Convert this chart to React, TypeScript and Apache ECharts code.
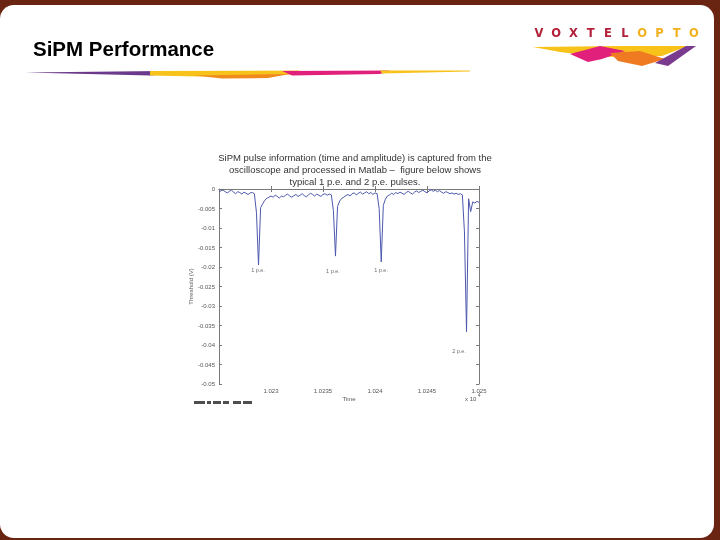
import React, { useEffect, useRef } from "react";
import * as echarts from "echarts";

// ---- data ----
const sampleStart = 1.0225; // time (x10^4)
const sampleStep = 0.00002;
const thresholdV = [
  -0.0008, -0.0004, -0.0003, -0.0007, -0.001, -0.0006, -0.0003, -0.0008, -0.0012, -0.0007,
  -0.0009, -0.0013, -0.0008, -0.0011, -0.0014, -0.001, -0.0009, -0.0012, -0.006, -0.0195,
  -0.0048, -0.0038, -0.0029, -0.0024, -0.0021, -0.0018, -0.0021, -0.0016, -0.0019, -0.0023,
  -0.0018, -0.002, -0.0016, -0.0013, -0.0018, -0.0021, -0.0017, -0.0014, -0.0019, -0.0016,
  -0.0012, -0.0017, -0.002, -0.0015, -0.0011, -0.0014, -0.0018, -0.0013, -0.0016, -0.0019,
  -0.0014, -0.0012, -0.0016, -0.0013, -0.0015, -0.0055, -0.0172, -0.0045, -0.0031, -0.0024,
  -0.0021, -0.0017, -0.0014, -0.0018, -0.0012, -0.001, -0.0015, -0.0011, -0.0008, -0.0013,
  -0.001, -0.0007, -0.0012, -0.0009, -0.0014, -0.001, -0.0012, -0.005, -0.0187, -0.0042,
  -0.0026, -0.0018, -0.0015, -0.0011, -0.0014, -0.0009, -0.0012, -0.0008, -0.0011, -0.0014,
  -0.0009, -0.0006, -0.001, -0.0013, -0.0008, -0.0005, -0.0009, -0.0006, -0.0003, -0.0007,
  -0.001, -0.0005, -0.0002, -0.0006, -0.0003, -0.0007, -0.0004, -0.0008, -0.0011, -0.0007,
  -0.0009, -0.0012, -0.001, -0.0013, -0.0011, -0.0014, -0.0012, -0.0015, -0.011, -0.0366,
  -0.0025, -0.0058, -0.0033, -0.0036, -0.0032, -0.0034,
];
const annotationText = ["1 p.e.", "1 p.e.", "1 p.e.", "2 p.e."];
const annotationTime = [1.022875, 1.023596, 1.024058, 1.024808];
const annotationV = [-0.0208, -0.021, -0.0208, -0.0415];
const xTicks = { min: 1.0225, max: 1.025, interval: 0.0005 };
const yTicks = { min: -0.05, max: 0, interval: 0.005 };
const captionLines = [
  "SiPM pulse information (time and amplitude) is captured from the",
  "oscilloscope and processed in Matlab –  figure below shows",
  "typical 1 p.e. and 2 p.e. pulses.",
];
const logoLetters = ["V", "O", "X", "T", "E", "L", "O", "P", "T", "O"];
const slideTitle = "SiPM Performance";
const exponentBase = "x 10";
const exponentPower = "4";

const fmt = (v: number) => String(parseFloat(v.toFixed(4)));

export default function App() {
  const ref = useRef<HTMLDivElement>(null);
  useEffect(() => {
    if (!ref.current) return;
    const chart = echarts.init(ref.current, null, { renderer: "svg" });
    const trace = thresholdV.map((v, i) => [sampleStart + i * sampleStep, v]);
    const ann = annotationText.map((t, i) => ({ value: [annotationTime[i], annotationV[i]], name: t }));
    const axisGray = "#7a7a7a";
    const labelStyle = { fontSize: 6, color: "#555", fontFamily: "Liberation Sans, Arial, sans-serif" };

    const graphics: any[] = [
      { type: "rect", z: -10, shape: { x: 0, y: 0, width: 720, height: 540 }, style: { fill: "#6a2412" } },
      { type: "rect", z: -9, shape: { x: 0, y: 5, width: 714, height: 533, r: 14 }, style: { fill: "#ffffff" } },
      {
        type: "text", left: 33, top: 38,
        style: { text: slideTitle, font: "bold 20.5px 'Liberation Sans', Arial, sans-serif", fill: "#000" },
      },
      // title swoosh
      { type: "polygon", shape: { points: [[25, 72.5], [160, 71], [200, 72], [150, 75.5]] }, style: { fill: "#6b3a8c" } },
      { type: "polygon", shape: { points: [[150, 71], [300, 70.5], [290, 74.5], [200, 76.5], [150, 75.5]] }, style: { fill: "#f7c21a" } },
      { type: "polygon", shape: { points: [[195, 75.5], [290, 74], [268, 78], [222, 78.5]] }, style: { fill: "#f08a1c" } },
      { type: "polygon", shape: { points: [[282, 71], [390, 70.5], [380, 74], [292, 75.5]] }, style: { fill: "#e0207a" } },
      { type: "polygon", shape: { points: [[380, 70.5], [470, 70.5], [470, 71.5], [382, 73.5]] }, style: { fill: "#f7c21a" } },
      // logo swoosh
      { type: "polygon", shape: { points: [[533, 47], [620, 46], [688, 46], [662, 56], [600, 57], [560, 52]] }, style: { fill: "#f7c21a" } },
      { type: "polygon", shape: { points: [[570, 54], [600, 46], [625, 51], [602, 59], [588, 62]] }, style: { fill: "#e0207a" } },
      { type: "polygon", shape: { points: [[610, 53], [640, 51], [665, 59], [642, 66], [618, 61]] }, style: { fill: "#f07a22" } },
      { type: "polygon", shape: { points: [[655, 63], [686, 46], [696, 46], [668, 66]] }, style: { fill: "#7a3a8e" } },
      // caption
      ...captionLines.map((t, i) => ({
        type: "text", x: 355, y: 157 + i * 12,
        style: { text: t, font: "9.5px 'Liberation Sans', Arial, sans-serif", fill: "#333", align: "center", verticalAlign: "middle" },
      })),
      // exponent label
      {
        type: "text", x: 465, y: 399,
        style: { text: exponentBase, fill: "#555", font: "6px 'Liberation Sans', Arial, sans-serif", verticalAlign: "middle" },
      },
      {
        type: "text", x: 478, y: 395,
        style: { text: exponentPower, fill: "#555", font: "4.5px 'Liberation Sans', Arial, sans-serif", verticalAlign: "middle" },
      },
      // cut-off text below the figure
      ...[[194, 11], [207, 4], [213, 8], [223, 6], [233, 8], [243, 9]].map(([x, w]) => ({
        type: "rect", shape: { x, y: 401, width: w, height: 3 }, style: { fill: "#222", opacity: 0.8 },
      })),
    ];
    logoLetters.forEach((l, i) => {
      graphics.push({
        type: "text", x: 539 + i * 17.2, y: 33,
        style: {
          text: l, font: "900 11.5px 'DejaVu Sans', Arial, sans-serif",
          fill: i < 6 ? "#b3203a" : "#f2b01e", align: "center", verticalAlign: "middle",
        },
      });
    });

    const baseX = {
      type: "value", min: xTicks.min, max: xTicks.max, interval: xTicks.interval,
      axisLine: { show: true, lineStyle: { color: axisGray, width: 1 } },
      axisTick: { show: true, inside: true, length: 3, lineStyle: { color: axisGray } },
      splitLine: { show: false },
    };
    const baseY = {
      type: "value", min: yTicks.min, max: yTicks.max, interval: yTicks.interval,
      axisLine: { show: true, lineStyle: { color: axisGray, width: 1 } },
      axisTick: { show: true, inside: true, length: 3, lineStyle: { color: axisGray } },
      splitLine: { show: false },
    };

    chart.setOption({
      animation: false,
      backgroundColor: "transparent",
      graphic: graphics,
      grid: { left: 219, top: 189, width: 260, height: 195, containLabel: false },
      xAxis: [
        {
          ...baseX, position: "bottom",
          name: "Time", nameLocation: "middle", nameGap: 12, nameTextStyle: { ...labelStyle },
          axisLabel: { ...labelStyle, margin: 4, showMinLabel: false, formatter: (v: number) => fmt(v) },
        },
        { ...baseX, position: "top", axisLabel: { show: false } },
      ],
      yAxis: [
        {
          ...baseY, position: "left",
          name: "Threshold (V)", nameLocation: "middle", nameGap: 22, nameRotate: 90, nameTextStyle: { ...labelStyle },
          axisLabel: { ...labelStyle, margin: 4, formatter: (v: number) => fmt(v) },
        },
        { ...baseY, position: "right", axisLabel: { show: false } },
      ],
      series: [
        {
          type: "line", data: trace, showSymbol: false, symbol: "none",
          lineStyle: { color: "#4d58ad", width: 1 },
        },
        {
          type: "scatter", data: ann, symbolSize: 0,
          label: {
            show: true, position: "inside", formatter: (p: any) => p.name,
            fontSize: 5.5, color: "#444", fontFamily: "Liberation Sans, Arial, sans-serif",
          },
        },
      ],
    });
    return () => chart.dispose();
  }, []);
  return <div ref={ref} style={{ position: "fixed", left: 0, top: 0, width: 720, height: 540 }} />;
}
